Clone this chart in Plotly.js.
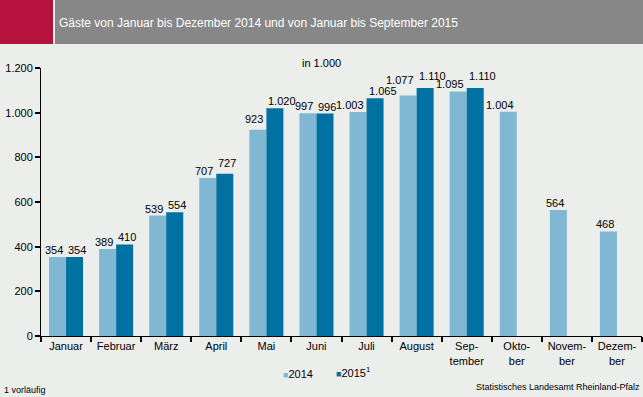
<!DOCTYPE html>
<html><head><meta charset="utf-8">
<script src="https://cdn.plot.ly/plotly-3.0.1.min.js"></script>
<style>html,body{margin:0;padding:0;background:#ECEEEC}#c{width:643px;height:397px}</style>
</head><body><div id="c"></div>
<script>
const months = ["Januar","Februar","März","April","Mai","Juni","Juli","August","Sep-<br>tember","Okto-<br>ber","Novem-<br>ber","Dezem-<br>ber"];
const v2014 = [354,389,539,707,923,997,1003,1077,1095,1004,564,468];
const v2015 = [354,410,554,727,1020,996,1065,1110,1110,null,null,null];
const yTicks = [0,200,400,600,800,1000,1200];
const F = "Liberation Sans, Arial, sans-serif";
const C14 = '#80B7D3', C15 = '#0071A1';
const fmt = v => String(v).replace(/\B(?=(\d{3})+(?!\d))/g, '.');
const traces = [
 {type:'bar', name:'2014', x:months, y:v2014, marker:{color:C14}, textposition:'none'},
 {type:'bar', name:'2015<sup>1</sup>', x:months, y:v2015, marker:{color:C15}, textposition:'none'}
];
const py = p => (336 - p) / 268;
const px = p => (p - 41) / 601;
// extra lift (px) for crowded labels, as in the reference
const lift14 = {4: 4, 7: 8};
const lift15 = {3: 4, 7: 5, 8: 5};
const valueLabels = [];
months.forEach((m, i) => {
  if (v2014[i] != null) valueLabels.push({text:fmt(v2014[i]), x:m, y:v2014[i], xref:'x', yref:'y', xanchor:'right', yanchor:'bottom', xshift:-2, yshift:(lift14[i]||0), showarrow:false, font:{family:F,size:11,color:'#000'}, borderpad:0});
  if (v2015[i] != null) valueLabels.push({text:fmt(v2015[i]), x:m, y:v2015[i], xref:'x', yref:'y', xanchor:'left', yanchor:'bottom', xshift:1, yshift:(lift15[i]||0), showarrow:false, font:{family:F,size:11,color:'#000'}, borderpad:0});
});
const layout = {
 width:643, height:397, separators:',.',
 paper_bgcolor:'#ECEEEC', plot_bgcolor:'#ECEEEC',
 margin:{l:41,r:1,t:68,b:61},
 barmode:'group', bargap:0.32, bargroupgap:0,
 font:{family:F,size:11,color:'#000'},
 xaxis:{showline:true, linecolor:'#000', linewidth:1, ticks:'outside', tickson:'boundaries', ticklen:5, tickcolor:'#000', tickwidth:2,
   tickangle:0, tickfont:{family:F,size:11}, fixedrange:true},
 yaxis:{range:[0,1200], tickvals:yTicks, tickformat:',d', showgrid:false, zeroline:false, showline:true, linecolor:'#000', linewidth:1,
   ticks:'outside', ticklen:5, tickwidth:2, tickcolor:'#000', tickfont:{family:F,size:11}},
 showlegend:false,
 shapes:[
  {type:'rect', xref:'paper', yref:'paper', x0:px(0), x1:px(53), y0:py(44), y1:py(0), fillcolor:'#B5123E', line:{width:0}, layer:'below'},
  {type:'rect', xref:'paper', yref:'paper', x0:px(55), x1:px(643), y0:py(44), y1:py(0), fillcolor:'#878787', line:{width:0}, layer:'below'}
 ],
 annotations:[
  {text:'Gäste von Januar bis Dezember 2014 und von Januar bis September 2015', xref:'paper', yref:'paper', x:px(57), y:py(23), xanchor:'left', yanchor:'middle', showarrow:false, font:{family:F,size:12,color:'#fff'}},
  {text:'in 1.000', xref:'paper', yref:'paper', x:px(300), y:py(63), xanchor:'left', yanchor:'middle', showarrow:false, font:{family:F,size:11}},
  {text:'<span style="color:'+C14+';font-size:9px">■</span>2014', xref:'paper', yref:'paper', x:px(281), y:py(374), xanchor:'left', yanchor:'middle', showarrow:false, font:{family:F,size:11}},
  {text:'<span style="color:'+C15+';font-size:9px">■</span>2015<sup>1</sup>', xref:'paper', yref:'paper', x:px(334), y:py(372), xanchor:'left', yanchor:'middle', showarrow:false, font:{family:F,size:11}},
  {text:'1 vorläufig', xref:'paper', yref:'paper', x:px(2), y:py(390), xanchor:'left', yanchor:'middle', showarrow:false, font:{family:F,size:9}},
  {text:'Statistisches Landesamt Rheinland-Pfalz', xref:'paper', yref:'paper', x:px(642), y:py(387), xanchor:'right', yanchor:'middle', showarrow:false, font:{family:F,size:9}}
 ].concat(valueLabels)
};
Plotly.newPlot('c', traces, layout, {staticPlot:true});
</script></body></html>
